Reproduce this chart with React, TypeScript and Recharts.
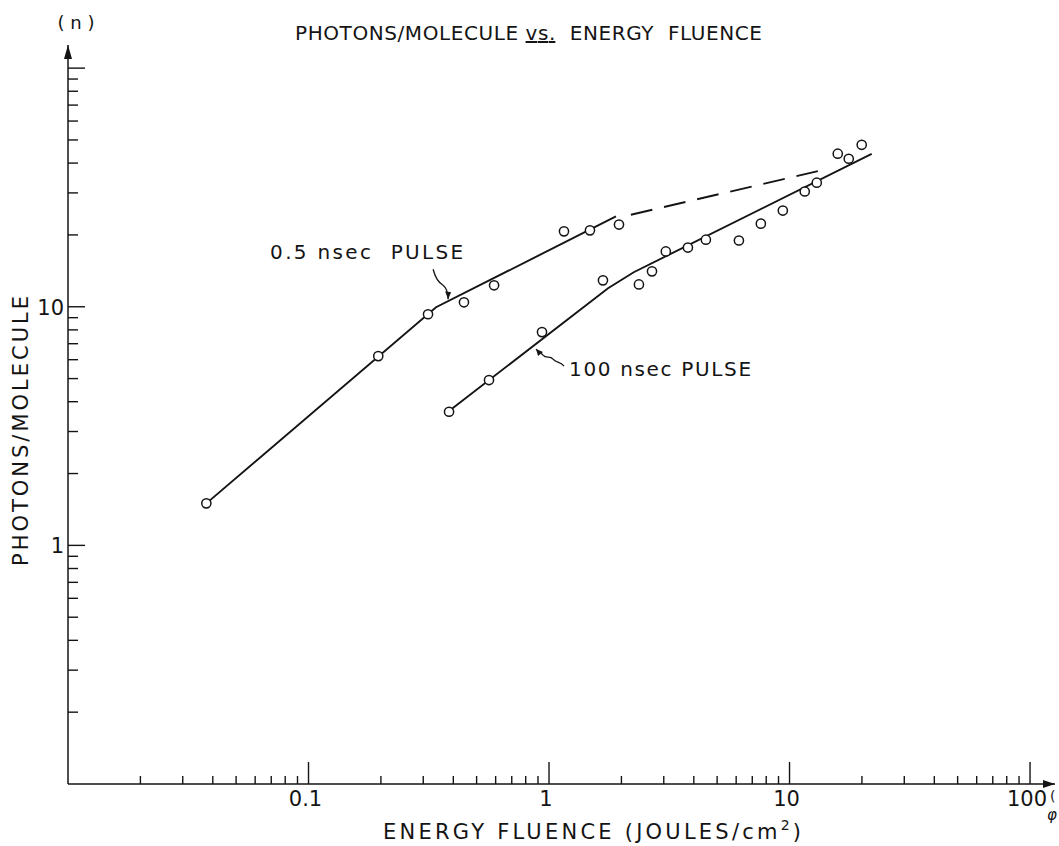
import React from "react";
import {
  ScatterChart,
  Scatter,
  XAxis,
  YAxis,
  ReferenceDot,
} from "recharts";

// measured points, 0.5 nsec pulse
const shortPulsePoints = [
  { x: 0.0376, y: 1.5 },
  { x: 0.195, y: 6.21 },
  { x: 0.314, y: 9.3 },
  { x: 0.443, y: 10.44 },
  { x: 0.591, y: 12.3 },
  { x: 1.154, y: 20.7 },
  { x: 1.48, y: 20.9 },
  { x: 1.954, y: 22.1 },
];

// measured points, 100 nsec pulse
const longPulsePoints = [
  { x: 0.384, y: 3.63 },
  { x: 0.563, y: 4.93 },
  { x: 0.935, y: 7.83 },
  { x: 1.676, y: 12.9 },
  { x: 2.365, y: 12.4 },
  { x: 2.68, y: 14.07 },
  { x: 3.06, y: 17.05 },
  { x: 3.78, y: 17.7 },
  { x: 4.49, y: 19.1 },
  { x: 6.16, y: 18.95 },
  { x: 7.6, y: 22.3 },
  { x: 9.38, y: 25.3 },
  { x: 11.57, y: 30.4 },
  { x: 12.98, y: 33.1 },
  { x: 15.87, y: 43.8 },
  { x: 17.63, y: 41.7 },
  { x: 19.96, y: 47.7 },
];

// hand-drawn fit lines
const shortPulseFit = [
  { x: 0.0376, y: 1.5 },
  { x: 0.339, y: 9.95 },
  { x: 1.898, y: 23.9 },
];
const shortPulseExtension = [
  { x: 2.19, y: 24.3 },
  { x: 13.87, y: 37.5 },
];
const longPulseFit = [
  { x: 0.384, y: 3.66 },
  { x: 1.76, y: 11.95 },
  { x: 2.25, y: 13.95 },
  { x: 21.96, y: 43.7 },
];

const xTicks = [
  0.02, 0.03, 0.04, 0.05, 0.06, 0.07, 0.08, 0.09, 0.1,
  0.2, 0.3, 0.4, 0.5, 0.6, 0.7, 0.8, 0.9, 1,
  2, 3, 4, 5, 6, 7, 8, 9, 10,
  20, 30, 40, 50, 60, 70, 80, 90, 100,
];
const xMajor = [0.1, 1, 10, 100];
const xTickLabels = ["0.1", "1", "10", "100"];

const yTicks = [
  0.2, 0.3, 0.4, 0.5, 0.6, 0.7, 0.8, 0.9, 1,
  2, 3, 4, 5, 6, 7, 8, 9, 10,
  20, 30, 40, 50, 60, 70, 80, 90, 100,
];
const yMajor = [1, 10, 100];
const yTickLabels = ["1", "10", ""];

const INK = "#141414";
const FONT = "'DejaVu Sans', 'Liberation Sans', sans-serif";

const XTick = ({ x, y, payload }: any) => {
  const i = xMajor.indexOf(payload.value);
  const major = i >= 0;
  return (
    <g>
      <line x1={x} y1={y} x2={x} y2={y - (major ? 22 : 8)} stroke={INK} strokeWidth={1.4} />
      {major && (
        <text x={x - 3} y={y + 22} textAnchor="middle" fontSize={21} fontFamily={FONT} fill={INK}>
          {xTickLabels[i]}
        </text>
      )}
    </g>
  );
};

const YTick = ({ x, y, payload }: any) => {
  const i = yMajor.indexOf(payload.value);
  const major = i >= 0;
  return (
    <g>
      <line x1={x} y1={y} x2={x + (major ? 17 : 10)} y2={y} stroke={INK} strokeWidth={1.4} />
      {major && (
        <text x={x - 4} y={y + 8} textAnchor="end" fontSize={21} fontFamily={FONT} fill={INK}>
          {yTickLabels[i]}
        </text>
      )}
    </g>
  );
};

const OpenCircle = (p: any) => (
  <circle cx={p.cx} cy={p.cy} r={4.6} fill="#fff" stroke={INK} strokeWidth={1.5} />
);
const NoDot = () => <g />;

const ArrowRight = (p: any) => (
  <path d={`M ${p.cx - 12} ${p.cy - 4} L ${p.cx} ${p.cy} L ${p.cx - 12} ${p.cy + 4} Z`} fill={INK} />
);
const ArrowUp = (p: any) => (
  <path d={`M ${p.cx - 4} ${p.cy + 14} L ${p.cx} ${p.cy} L ${p.cx + 4} ${p.cy + 14} Z`} fill={INK} />
);

const ShortPulseNote = (p: any) => (
  <g>
    <path
      d={`M ${p.cx - 15} ${p.cy - 30} Q ${p.cx - 12} ${p.cy - 18} ${p.cx - 5} ${p.cy - 14} Q ${p.cx} ${p.cy - 10} ${p.cx} ${p.cy}`}
      fill="none"
      stroke={INK}
      strokeWidth={1.3}
    />
    <path d={`M ${p.cx - 3} ${p.cy - 8} L ${p.cx} ${p.cy} L ${p.cx + 3} ${p.cy - 7} Z`} fill={INK} />
    <text
      x={p.cx - 178}
      y={p.cy - 40}
      fontSize={20}
      fontFamily={FONT}
      fill={INK}
      textLength={193}
      lengthAdjust="spacing"
      style={{ whiteSpace: "pre" }}
    >
      0.5 nsec  PULSE
    </text>
  </g>
);

const LongPulseNote = (p: any) => (
  <g>
    <path
      d={`M ${p.cx + 28} ${p.cy + 17} C ${p.cx + 24} ${p.cy + 12} ${p.cx + 20} ${p.cy + 14} ${p.cx + 17} ${p.cy + 10} C ${p.cx + 14} ${p.cy + 6} ${p.cx + 10} ${p.cy + 10} ${p.cx + 7} ${p.cy + 6} C ${p.cx + 5} ${p.cy + 4} ${p.cx + 3} ${p.cy + 3} ${p.cx} ${p.cy}`}
      fill="none"
      stroke={INK}
      strokeWidth={1.3}
    />
    <path d={`M ${p.cx + 2} ${p.cy + 7} L ${p.cx} ${p.cy} L ${p.cx + 7} ${p.cy + 3} Z`} fill={INK} />
    <text
      x={p.cx + 33}
      y={p.cy + 27}
      fontSize={20}
      fontFamily={FONT}
      fill={INK}
      textLength={182}
      lengthAdjust="spacing"
    >
      100 nsec PULSE
    </text>
  </g>
);

export default function App() {
  return (
    <div style={{ position: "absolute", left: 0, top: 0, width: 1059, height: 846, background: "#fff" }}>
      <ScatterChart width={1059} height={846} margin={{ top: 45, right: 4, bottom: 0, left: 0 }}>
        <XAxis
          type="number"
          dataKey="x"
          scale="log"
          domain={[0.01, 127]}
          allowDataOverflow
          ticks={xTicks}
          interval={0}
          tick={(p: any) => <XTick {...p} />}
          tickLine={false}
          tickSize={0}
          tickMargin={0}
          axisLine={{ stroke: INK, strokeWidth: 1.5 }}
          height={62}
        />
        <YAxis
          type="number"
          dataKey="y"
          scale="log"
          domain={[0.1, 125]}
          allowDataOverflow
          ticks={yTicks}
          interval={0}
          tick={(p: any) => <YTick {...p} />}
          tickLine={false}
          tickSize={0}
          tickMargin={0}
          axisLine={{ stroke: INK, strokeWidth: 1.5 }}
          width={68}
        />
        <Scatter
          data={shortPulseFit}
          line={{ stroke: INK, strokeWidth: 1.9 }}
          shape={NoDot}
          isAnimationActive={false}
        />
        <Scatter
          data={shortPulseExtension}
          line={{ stroke: INK, strokeWidth: 1.9, strokeDasharray: "22 12" }}
          shape={NoDot}
          isAnimationActive={false}
        />
        <Scatter
          data={longPulseFit}
          line={{ stroke: INK, strokeWidth: 1.9 }}
          shape={NoDot}
          isAnimationActive={false}
        />
        <Scatter data={shortPulsePoints} shape={OpenCircle} isAnimationActive={false} />
        <Scatter data={longPulsePoints} shape={OpenCircle} isAnimationActive={false} />
        <ReferenceDot x={0.3806} y={10.75} ifOverflow="visible" shape={ShortPulseNote} />
        <ReferenceDot x={0.883} y={6.645} ifOverflow="visible" shape={LongPulseNote} />
        <ReferenceDot x={127} y={0.1} ifOverflow="visible" shape={ArrowRight} />
        <ReferenceDot x={0.01} y={125} ifOverflow="visible" shape={ArrowUp} />
      </ScatterChart>
      <svg
        width={1059}
        height={846}
        style={{ position: "absolute", left: 0, top: 0, pointerEvents: "none" }}
        fontFamily={FONT}
        fill={INK}
      >
        <text x={76} y={29} fontSize={18} textAnchor="middle" style={{ whiteSpace: "pre" }}>
          ( n )
        </text>
        <text
          x={295}
          y={40}
          fontSize={20}
          textLength={467}
          lengthAdjust="spacing"
          style={{ whiteSpace: "pre" }}
        >
          PHOTONS/MOLECULE{" "}
          <tspan textDecoration="underline">vs.</tspan>
          {"  ENERGY  FLUENCE"}
        </text>
        <text
          transform="translate(28, 566) rotate(-90)"
          x={0}
          y={0}
          fontSize={21}
          textLength={270}
          lengthAdjust="spacing"
        >
          PHOTONS/MOLECULE
        </text>
        <text x={383} y={839} fontSize={21} textLength={418} lengthAdjust="spacing">
          ENERGY FLUENCE (JOULES/cm
          <tspan fontSize={14} dy={-9}>2</tspan>
          <tspan dy={9}>)</tspan>
        </text>
        <text x={1050} y={801} fontSize={14}>
          (
        </text>
        <text x={1047} y={820} fontSize={15} fontStyle="italic">
          φ
        </text>
      </svg>
    </div>
  );
}
